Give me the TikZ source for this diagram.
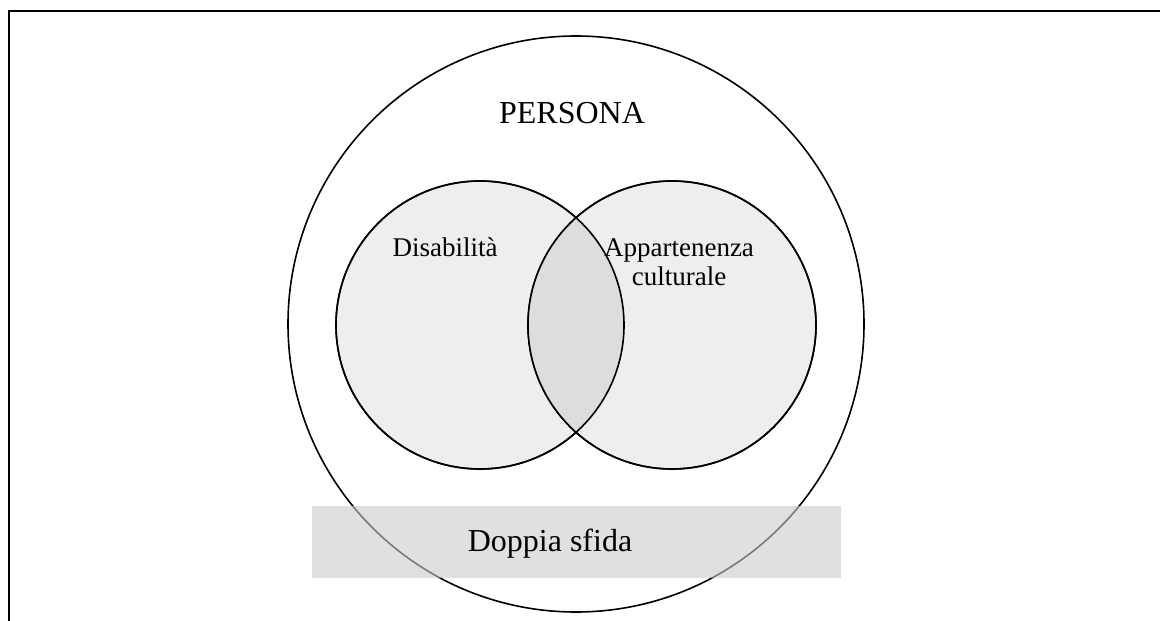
\documentclass[tikz,border=0pt]{standalone}
\usepackage{fontspec}
\setmainfont{Liberation Serif}
\definecolor{setfill}{HTML}{EEEEEE}
\definecolor{interfill}{HTML}{DDDDDD}
\definecolor{boxfill}{HTML}{CCCCCC}
\begin{document}
\begin{tikzpicture}[x=1pt,y=-1pt,
  ring/.style={circle, draw, line width=1.6pt, inner sep=0pt, outer sep=0pt},
  setcircle/.style={ring, fill=setfill, minimum size=288pt},
  lbl/.style={anchor=base, inner sep=0pt},
  challenge/.style={fill=boxfill, fill opacity=0.6, draw=none, minimum width=529pt, minimum height=72pt, inner sep=0pt}]
\useasboundingbox (0,0) rectangle (1160,621);
% frame
\draw[line width=2.2pt] (9,621) -- (9,11) -- (1160,11);
% outer circle
\node[ring, minimum size=576pt] (persona) at (576,324) {};
% set circles
\node[setcircle] (dis) at (480,325) {};
\node[setcircle] (cult) at (672,325) {};
\begin{scope}
  \clip (480,325) circle (144);
  \fill[interfill] (672,325) circle (144);
\end{scope}
\draw[line width=1.6pt] (480,325) circle (144);
\draw[line width=1.6pt] (672,325) circle (144);
% labels
\node[lbl, font=\fontsize{32}{38}\selectfont] (tpersona) at (572,123) {PERSONA};
\node[lbl, font=\fontsize{27}{29}\selectfont] (tdis) at (445,256) {Disabilità};
\node[lbl, font=\fontsize{27}{29}\selectfont] (tcult1) at (679,256) {Appartenenza};
\node[lbl, font=\fontsize{27}{29}\selectfont] (tcult2) at (679,285) {culturale};
% doppia sfida box
\node[challenge] (sfida) at (576.5,542) {};
\node[lbl, font=\fontsize{32}{38}\selectfont] (tsfida) at (550,551) {Doppia sfida};
\end{tikzpicture}
\end{document}
